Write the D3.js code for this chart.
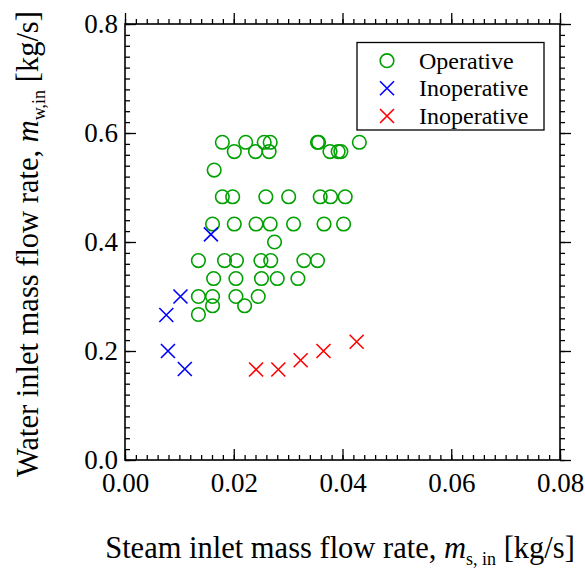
<!DOCTYPE html>
<html>
<head>
<meta charset="utf-8">
<script src="https://cdn.jsdelivr.net/npm/d3@7"></script>
<style>
  html, body { margin: 0; padding: 0; background: #fff; }
  svg text { font-family: 'Liberation Serif', 'Times New Roman', serif; fill: #000; }
</style>
</head>
<body>
<svg id="chart" width="585" height="572"></svg>
<script>
// ---- data ----
const operativeX = [0.0179, 0.0222, 0.0256, 0.0267, 0.0354, 0.0356, 0.0431,
                    0.0201, 0.0240, 0.0265, 0.0377, 0.0392, 0.0397,
                    0.0164,
                    0.0179, 0.0198, 0.0259, 0.0301, 0.0359, 0.0378, 0.0405,
                    0.0161, 0.0201, 0.0241, 0.0267, 0.0310, 0.0366, 0.0402,
                    0.0275,
                    0.0135, 0.0183, 0.0205, 0.0250, 0.0268, 0.0329, 0.0354,
                    0.0163, 0.0204, 0.0251, 0.0280, 0.0318,
                    0.0135, 0.0161, 0.0204, 0.0245,
                    0.0161, 0.0220,
                    0.0135];
const operativeY = [0.583, 0.583, 0.583, 0.583, 0.583, 0.583, 0.583,
                    0.566, 0.566, 0.566, 0.566, 0.566, 0.566,
                    0.532,
                    0.483, 0.483, 0.483, 0.483, 0.483, 0.483, 0.483,
                    0.433, 0.433, 0.433, 0.433, 0.433, 0.433, 0.433,
                    0.400,
                    0.366, 0.366, 0.366, 0.366, 0.366, 0.366, 0.366,
                    0.333, 0.333, 0.333, 0.333, 0.333,
                    0.300, 0.300, 0.300, 0.300,
                    0.283, 0.283,
                    0.267];
const inopBlueX = [0.0158, 0.0102, 0.0076, 0.0079, 0.0110];
const inopBlueY = [0.414, 0.300, 0.266, 0.200, 0.167];
const inopRedX = [0.0241, 0.0282, 0.0323, 0.0365, 0.0426];
const inopRedY = [0.166, 0.166, 0.183, 0.200, 0.217];

const xTicks = [0.00, 0.02, 0.04, 0.06, 0.08];
const yTicks = [0.0, 0.2, 0.4, 0.6, 0.8];
const legendLabels = ["Operative", "Inoperative", "Inoperative"];

// ---- layout ----
const svg = d3.select("#chart");
const L = 125, R = 560, T = 24, B = 460;
const x = d3.scaleLinear().domain([0, 0.08]).range([L, R]);
const y = d3.scaleLinear().domain([0, 0.8]).range([B, T]);

const green = "#00a000", blue = "#0000ff", red = "#ff0000";
const majorLen = 11, minorLen = 5;
const tickFont = 27;
const SERIF = "'Liberation Serif', 'Times New Roman', serif";

// minor ticks
const xMinor = d3.range(0, 0.0801, 0.002).map(v => +v.toFixed(4));
const yMinor = d3.range(0, 0.801, 0.02).map(v => +v.toFixed(3));

function ax(gen, pos, len, fmt) {
  const g = svg.append("g").attr("transform", pos)
    .call(gen.tickSizeInner(-len).tickSizeOuter(0).tickFormat(fmt));
  g.attr("font-family", SERIF).attr("font-size", tickFont);
  g.select(".domain").remove();
  g.selectAll("line").attr("stroke", "#000").attr("stroke-width", 1.3);
  return g;
}
// minor
ax(d3.axisBottom(x).tickValues(xMinor), `translate(0,${B})`, minorLen, "");
ax(d3.axisTop(x).tickValues(xMinor), `translate(0,${T})`, -minorLen, "");
ax(d3.axisLeft(y).tickValues(yMinor), `translate(${L},0)`, minorLen, "");
ax(d3.axisRight(y).tickValues(yMinor), `translate(${R},0)`, -minorLen, "");
// major
const gxb = ax(d3.axisBottom(x).tickValues(xTicks), `translate(0,${B})`, majorLen, d3.format(".2f"));
ax(d3.axisTop(x).tickValues(xTicks), `translate(0,${T})`, -majorLen, "");
const gyl = ax(d3.axisLeft(y).tickValues(yTicks), `translate(${L},0)`, majorLen, d3.format(".1f"));
ax(d3.axisRight(y).tickValues(yTicks), `translate(${R},0)`, -majorLen, "");

gxb.selectAll("text").attr("y", 0).attr("dy", null)
  .attr("transform", "translate(0,32)")
  .style("font-size", tickFont + "px").style("font-family", SERIF);
gyl.selectAll("text").attr("x", -7).attr("dy", "0.33em")
  .style("font-size", tickFont + "px").style("font-family", SERIF);

// frame
svg.append("rect").attr("x", L).attr("y", T).attr("width", R - L).attr("height", B - T)
  .attr("fill", "none").attr("stroke", "#000").attr("stroke-width", 1.6);

// ---- marks ----
const r = 6.8, cs = 7;
const opData = operativeX.map((v, i) => ({x: v, y: operativeY[i]}));
svg.append("g").selectAll("circle").data(opData).join("circle")
  .attr("cx", d => x(d.x)).attr("cy", d => y(d.y)).attr("r", r)
  .attr("fill", "none").attr("stroke", green).attr("stroke-width", 1.6);

function crosses(xs, ys, color) {
  const data = xs.map((v, i) => ({x: v, y: ys[i]}));
  svg.append("g").selectAll("path").data(data).join("path")
    .attr("d", d => {
      const cx = x(d.x), cy = y(d.y);
      return `M${cx - cs},${cy - cs}L${cx + cs},${cy + cs}M${cx - cs},${cy + cs}L${cx + cs},${cy - cs}`;
    })
    .attr("fill", "none").attr("stroke", color).attr("stroke-width", 1.6);
}
crosses(inopBlueX, inopBlueY, blue);
crosses(inopRedX, inopRedY, red);

// ---- legend ----
const lg = svg.append("g");
lg.append("rect").attr("x", 357).attr("y", 42.5).attr("width", 187).attr("height", 87.5)
  .attr("fill", "#fff").attr("stroke", "#000").attr("stroke-width", 1.3);
const legY = [60.7, 88.3, 116];
const legColors = [green, blue, red];
legendLabels.forEach((lab, i) => {
  const cx = 387, cy = legY[i];
  if (i === 0) {
    lg.append("circle").attr("cx", cx).attr("cy", cy).attr("r", r)
      .attr("fill", "none").attr("stroke", green).attr("stroke-width", 1.6);
  } else {
    lg.append("path").attr("d", `M${cx - cs},${cy - cs}L${cx + cs},${cy + cs}M${cx - cs},${cy + cs}L${cx + cs},${cy - cs}`)
      .attr("fill", "none").attr("stroke", legColors[i]).attr("stroke-width", 1.6);
  }
  lg.append("text").attr("x", 419).attr("y", cy).attr("dy", "0.33em")
    .style("font-size", "24px").text(lab);
});

// ---- axis titles ----
const xt = svg.append("text").attr("x", 340).attr("y", 558)
  .attr("text-anchor", "middle").style("font-size", "30.5px");
xt.append("tspan").text("Steam inlet mass flow rate, ");
xt.append("tspan").style("font-style", "italic").text("m");
xt.append("tspan").attr("dy", 7).style("font-size", "18px").text("s, in");
xt.append("tspan").attr("dy", -7).text(" [kg/s]");

const yt = svg.append("text").attr("transform", "translate(38,244) rotate(-90)")
  .attr("text-anchor", "middle").style("font-size", "30.5px");
yt.append("tspan").text("Water inlet mass flow rate, ");
yt.append("tspan").style("font-style", "italic").text("m");
yt.append("tspan").attr("dy", 7).style("font-size", "18px").text("w,in");
yt.append("tspan").attr("dy", -7).text(" [kg/s]");
</script>
</body>
</html>
